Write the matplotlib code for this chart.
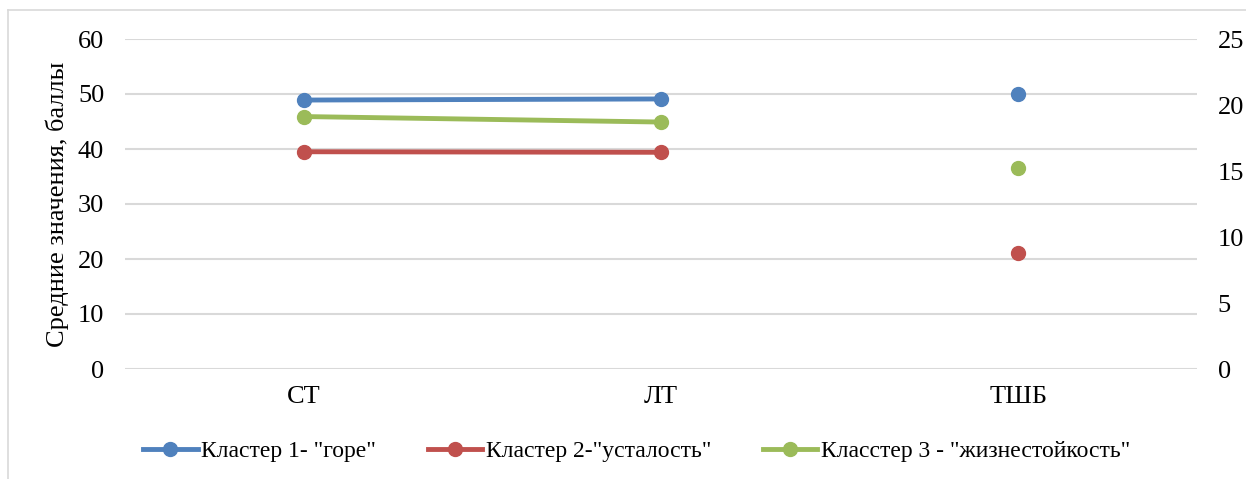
import matplotlib.pyplot as plt
from matplotlib.lines import Line2D

plt.rcParams['font.family'] = ['Liberation Serif', 'DejaVu Serif']

categories = ['СТ', 'ЛТ', 'ТШБ']
series_names = ['Кластер 1- "горе"', 'Кластер 2-"усталость"', 'Класстер 3 - "жизнестойкость"']
colors = ['#4F81BD', '#C0504D', '#9BBB59']

# СТ and ЛТ on the left axis
left_values = [
    [48.9, 49.1],
    [39.5, 39.4],
    [45.9, 44.9],
]
# ТШБ on the right axis
right_values = [20.8, 8.8, 15.2]

fig = plt.figure(figsize=(12.46, 4.79), dpi=100)
ax = fig.add_axes([125 / 1246, 1 - 369 / 479, (1197 - 125) / 1246, (369 - 39) / 479])
ax2 = ax.twinx()

handles = []
for name, vals, c in zip(series_names, left_values, colors):
    h, = ax.plot([0, 1], vals, color=c, lw=3.5, marker='o', ms=10, label=name, zorder=3)
    handles.append(h)
for v, c in zip(right_values, colors):
    ax2.plot([2], [v], color=c, marker='o', ms=10, ls='none', zorder=3)

ax.set_xlim(-0.5, 2.5)
ax.set_ylim(0, 60)
ax.set_yticks(range(0, 61, 10))
ax2.set_ylim(0, 25)
ax2.set_yticks(range(0, 26, 5))
ax.set_xticks(range(len(categories)))
ax.set_xticklabels(categories)

ax.grid(axis='y', color='#D9D9D9', lw=1.5)
ax.set_axisbelow(True)
for a in (ax, ax2):
    for s in a.spines.values():
        s.set_visible(False)
    a.tick_params(length=0, labelsize=19)
ax.tick_params(axis='y', pad=15)
ax2.tick_params(axis='y', pad=15)
ax.tick_params(axis='x', pad=12)

ax.set_ylabel('Средние значения, баллы', fontsize=19, labelpad=6)

fig.legend(handles=handles, loc='center', bbox_to_anchor=(0.511, 1 - 451 / 479), ncol=3,
           frameon=False, fontsize=17, handlelength=2.3, columnspacing=2.2, handletextpad=0.15)

# outer frame
fig.add_artist(Line2D([8 / 1246, 8 / 1246], [0, 1 - 10 / 479], color='#D9D9D9', lw=1.2))
fig.add_artist(Line2D([8 / 1246, 1], [1 - 10 / 479, 1 - 10 / 479], color='#D9D9D9', lw=1.2))

fig.savefig('out.png', dpi=100)
